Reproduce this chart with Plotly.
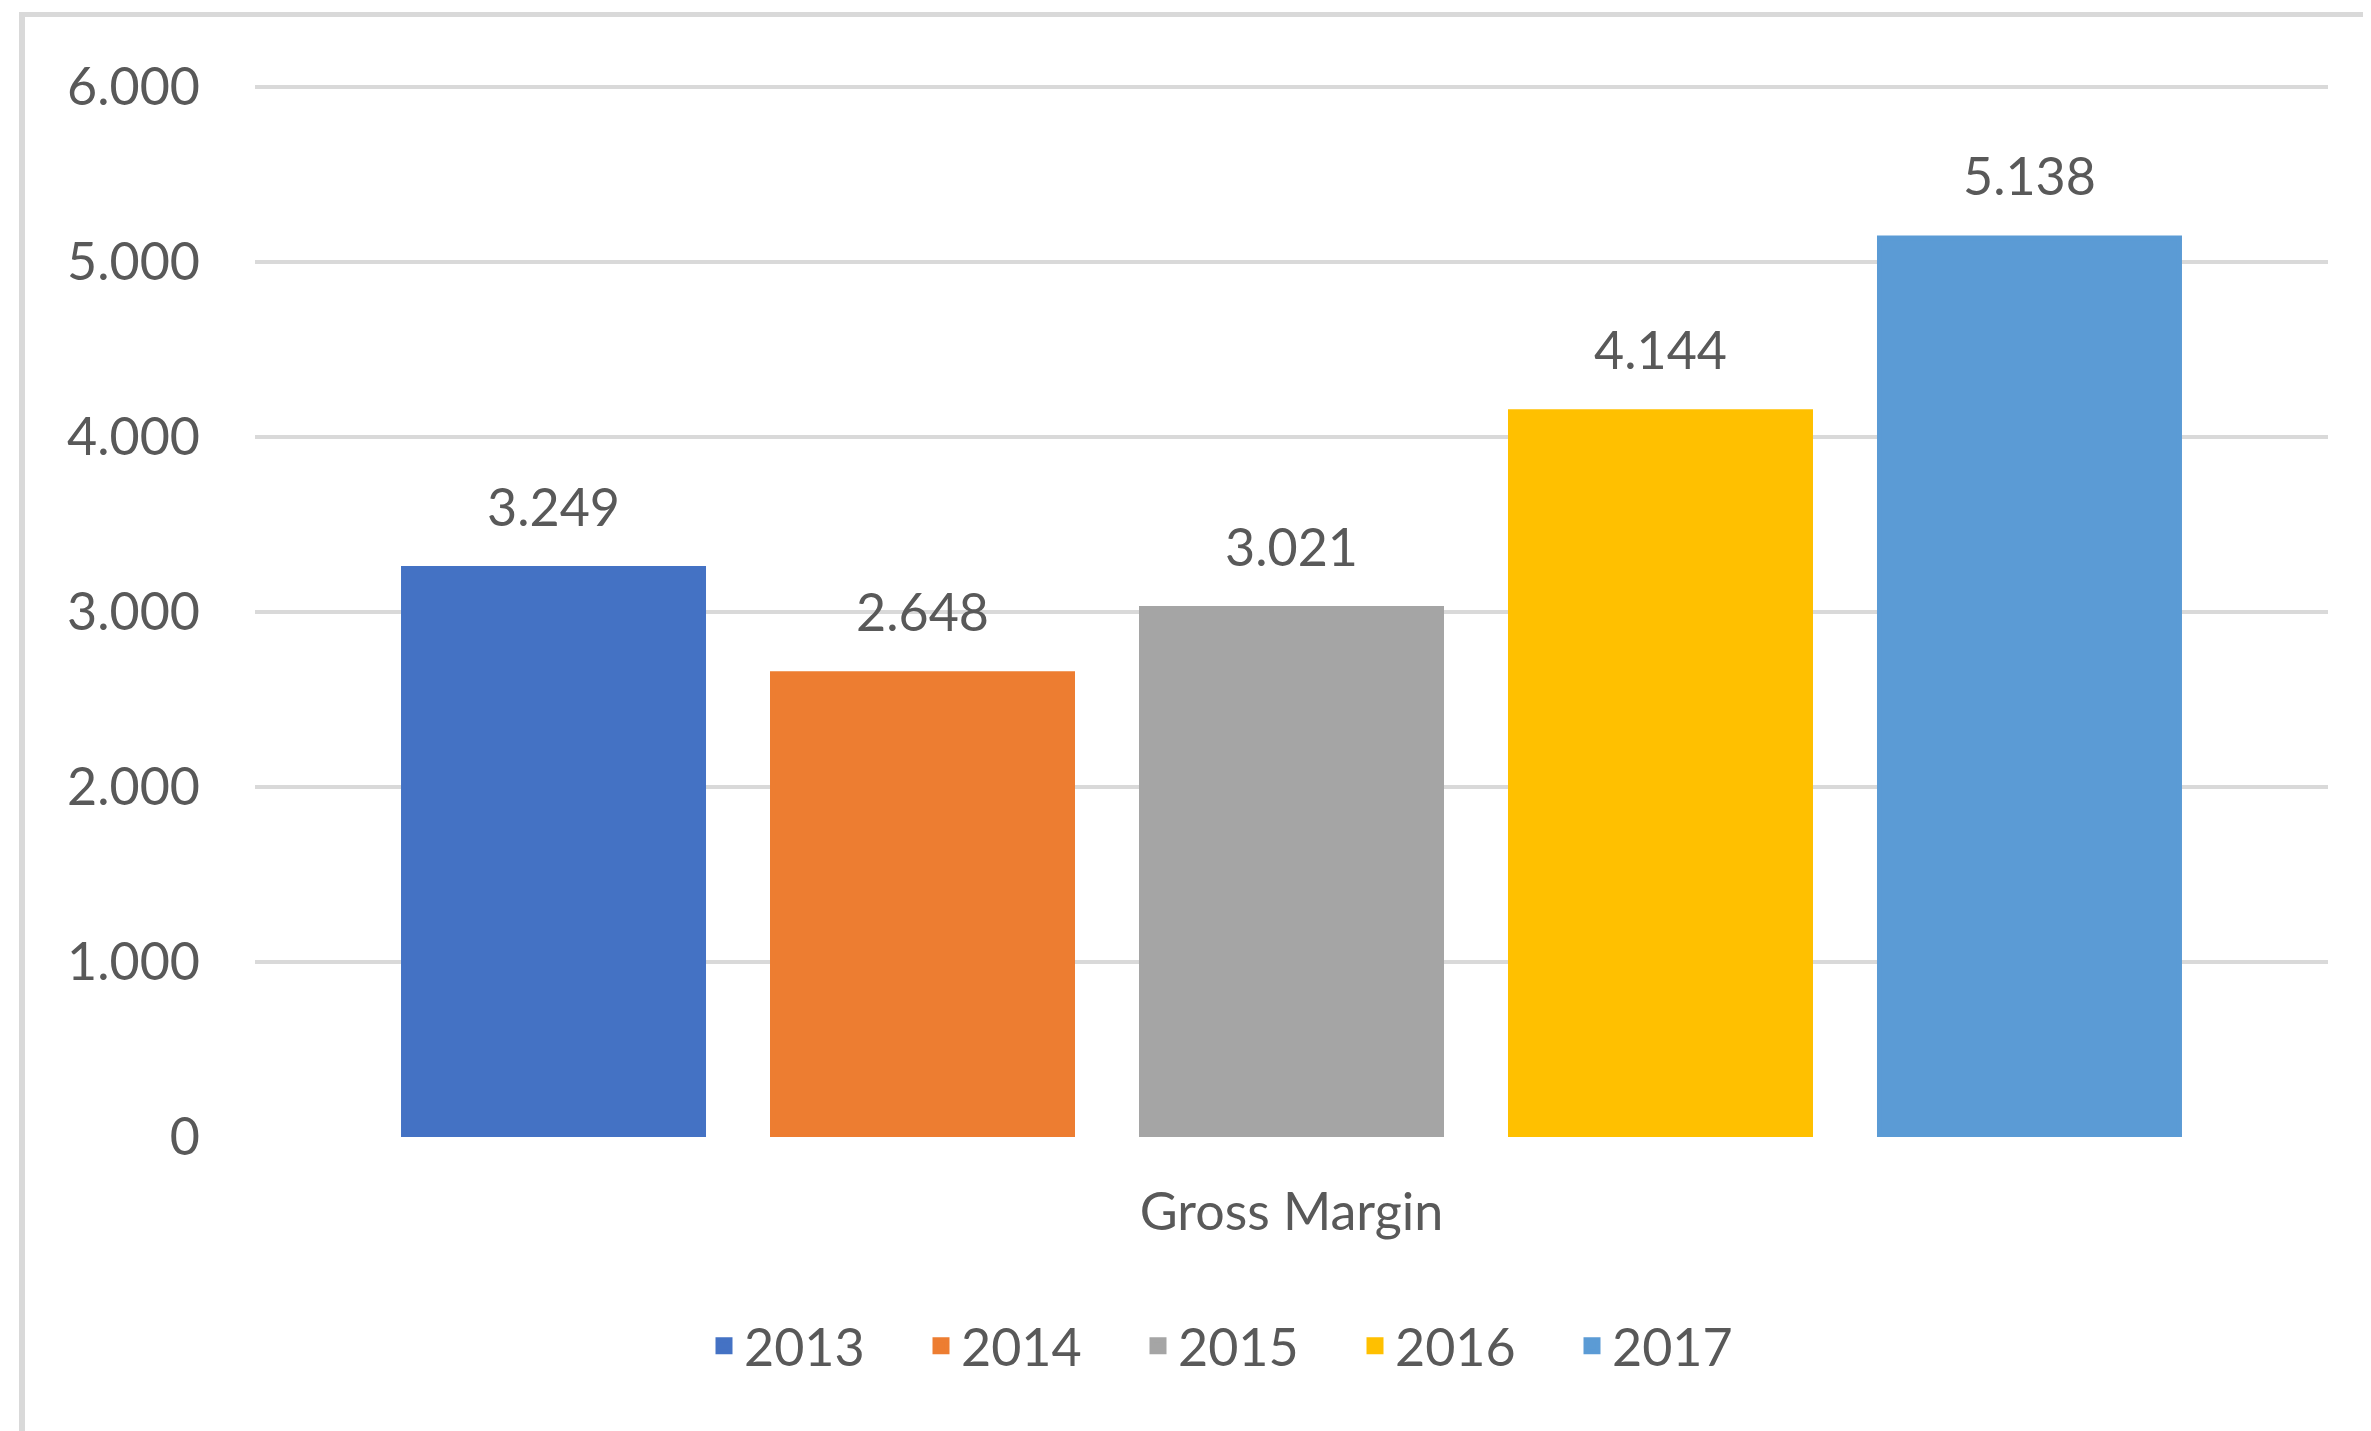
import plotly.graph_objects as go

category = ["Gross Margin"]
years = ["2013", "2014", "2015", "2016", "2017"]
values = [3249, 2648, 3021, 4144, 5138]
colors = ["#4472C4", "#ED7D31", "#A5A5A5", "#FFC000", "#5B9BD5"]
y_ticks = [0, 1000, 2000, 3000, 4000, 5000, 6000]

W, H = 2371, 1431
OFF = 8  # page body margin shift
Y_MAX = 6012
PW = 2073
PH = round(1050 * Y_MAX / 6000)
ML = 255 - OFF
MT = 1137 - PH - OFF
MR = W - ML - PW
MB = H - MT - PH

FONT = "Lato, 'Open Sans', sans-serif"
TXT = "#595959"
GRID = "#d9d9d9"

fig = go.Figure()
for yr, v, c in zip(years, values, colors):
    fig.add_trace(go.Bar(
        x=category, y=[v], name=yr,
        marker=dict(color=c, line=dict(color=c, width=5)),
        texttemplate="<span style='font-size:52px'>%{y:,.0f}</span><br>\u00a0",
        textposition="outside",
        textfont=dict(family=FONT, size=26, color=TXT),
        cliponaxis=False,
        hoverinfo="skip",
    ))

def px_x(px):
    # px in screenshot coordinates
    return (px - OFF - ML) / PW

def px_y(py):
    return (MT + PH - (py - OFF)) / PH

fig.update_layout(
    width=W, height=H, autosize=False,
    margin=dict(l=ML, r=MR, t=MT, b=MB, pad=0),
    paper_bgcolor="white", plot_bgcolor="white",
    separators=",.",
    barmode="group", bargap=0.11, bargroupgap=0.187,
    font=dict(family=FONT, size=52, color=TXT),
    showlegend=True,
    legend=dict(
        orientation="h", x=px_x(704), xanchor="left",
        y=px_y(1346), yanchor="middle",
        font=dict(family=FONT, size=52, color=TXT),
        entrywidth=172, entrywidthmode="pixels",
        bgcolor="rgba(0,0,0,0)",
    ),
    xaxis=dict(
        showgrid=False, showline=False, zeroline=False,
        tickfont=dict(family=FONT, size=52, color=TXT),
        ticklabelstandoff=40,
    ),
    yaxis=dict(
        range=[0, Y_MAX], tickvals=y_ticks, tickformat=",.0f",
        showgrid=True, gridcolor=GRID, gridwidth=4,
        zeroline=False, showline=False,
        tickfont=dict(family=FONT, size=52, color=TXT),
        ticklabelstandoff=54,
    ),
    shapes=[
        dict(type="line", xref="paper", yref="paper",
             x0=px_x(19), x1=px_x(W + 5), y0=px_y(14.5), y1=px_y(14.5),
             line=dict(color=GRID, width=5), layer="above"),
        dict(type="line", xref="paper", yref="paper",
             x0=px_x(22), x1=px_x(22), y0=px_y(12), y1=px_y(H + 5),
             line=dict(color=GRID, width=6), layer="above"),
    ],
)

fig.write_html("out.html")
